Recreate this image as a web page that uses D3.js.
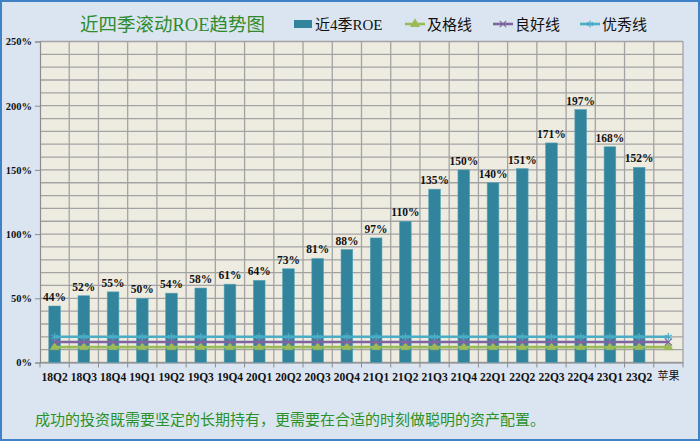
<!DOCTYPE html>
<html>
<head>
<meta charset="utf-8">
<script src="https://cdn.jsdelivr.net/npm/d3@7.9.0/dist/d3.min.js"></script>
<style>
  body { margin: 0; background: #fff; }
  svg { display: block; }
  .num { font-family: "Liberation Serif", "Times New Roman", serif; font-weight: bold; }
</style>
</head>
<body>
<svg id="chart" width="700" height="441"></svg>
<script>
const quarters = ['18Q2','18Q3','18Q4','19Q1','19Q2','19Q3','19Q4','20Q1','20Q2','20Q3','20Q4',
  '21Q1','21Q2','21Q3','21Q4','22Q1','22Q2','22Q3','22Q4','23Q1','23Q2','苹果'];
const roe = [44,52,55,50,54,58,61,64,73,81,88,97,110,135,150,140,151,171,197,168,152];
const passLine = 12;
const goodLine = 16;
const excellentLine = 20;
const yTicks = [0,50,100,150,200,250];

const svg = d3.select('#chart');
const W = 700, H = 441;
const plot = { left: 40, right: 683, top: 41.5, bottom: 362.5 };
const mixFont = '"Liberation Serif", "Noto Sans CJK SC", serif';

// outer panel
svg.append('rect').attr('x', 1).attr('y', 1).attr('width', W - 2).attr('height', H - 2)
  .attr('fill', '#DBE5F1').attr('stroke', '#3F82C6').attr('stroke-width', 2);

const x = d3.scaleBand().domain(quarters).range([plot.left, plot.right]).padding(0);
const y = d3.scaleLinear().domain([0, 250]).range([plot.bottom, plot.top]);

// plot area
svg.append('rect')
  .attr('x', plot.left).attr('y', plot.top)
  .attr('width', plot.right - plot.left).attr('height', plot.bottom - plot.top)
  .attr('fill', '#EEECE1');

const grid = svg.append('g').attr('stroke', '#A3A3A3').attr('stroke-width', 1.3);
grid.selectAll('line.h').data(d3.range(0, 251, 10)).join('line')
  .attr('x1', plot.left).attr('x2', plot.right)
  .attr('y1', d => y(d)).attr('y2', d => y(d));
grid.selectAll('line.v').data(d3.range(1, quarters.length + 1)).join('line')
  .attr('x1', i => plot.left + x.step() * i)
  .attr('x2', i => plot.left + x.step() * i)
  .attr('y1', plot.top).attr('y2', plot.bottom);

// axes
const yAxis = svg.append('g').attr('transform', `translate(${plot.left},0)`)
  .call(d3.axisLeft(y).tickValues(yTicks).tickFormat(d => d + '%').tickSize(5).tickPadding(3));
yAxis.select('.domain').attr('stroke', '#8C8C8C').attr('stroke-width', 1.2);
yAxis.selectAll('.tick line').attr('stroke', '#8C8C8C');
yAxis.selectAll('text').attr('class', 'num').attr('font-size', 10.5).attr('fill', '#111');

const xAxis = svg.append('g').attr('transform', `translate(0,${plot.bottom})`)
  .call(d3.axisBottom(x).tickSize(0).tickPadding(10));
xAxis.select('.domain').attr('stroke', '#8C8C8C').attr('stroke-width', 1.2);
xAxis.selectAll('text')
  .attr('font-family', mixFont)
  .attr('font-weight', d => d === '苹果' ? 'normal' : 'bold')
  .attr('font-size', d => d === '苹果' ? 11 : 11.5)
  .attr('fill', '#111');
xAxis.selectAll('line.bt').data(d3.range(quarters.length + 1)).join('line')
  .attr('x1', i => plot.left + x.step() * i).attr('x2', i => plot.left + x.step() * i)
  .attr('y1', 0).attr('y2', 5).attr('stroke', '#8C8C8C');

// bars
const barW = x.bandwidth() * 0.4;
const bars = roe.map((v, i) => ({ q: quarters[i], v }));
svg.append('g').selectAll('rect').data(bars).join('rect')
  .attr('x', d => x(d.q) + (x.bandwidth() - barW) / 2)
  .attr('y', d => y(d.v))
  .attr('width', barW)
  .attr('height', d => y(0) - y(d.v))
  .attr('fill', '#31849B')
  .attr('stroke', '#5BA5BA').attr('stroke-width', 0.6);

svg.append('g').selectAll('text').data(bars).join('text')
  .attr('class', 'num')
  .attr('x', d => x(d.q) + x.bandwidth() / 2)
  .attr('y', d => y(d.v) - 5)
  .attr('text-anchor', 'middle')
  .attr('font-size', 11.5)
  .attr('fill', '#111')
  .text(d => d.v + '%');

// threshold lines
const lines = [
  { name: '及格线', value: passLine, color: '#9BBB59', symbol: d3.symbolTriangle, size: 36, fill: true },
  { name: '良好线', value: goodLine, color: '#8064A2', symbol: d3.symbolX, size: 36, fill: false },
  { name: '优秀线', value: excellentLine, color: '#4BACC6', symbol: d3.symbolAsterisk, size: 40, fill: false }
];
const cx = q => x(q) + x.bandwidth() / 2;
lines.forEach(l => {
  const pts = quarters.map(q => [cx(q), y(l.value)]);
  svg.append('path').attr('d', d3.line()(pts))
    .attr('fill', 'none').attr('stroke', l.color).attr('stroke-width', 2.6);
  const sym = d3.symbol().type(l.symbol).size(l.size);
  svg.append('g').selectAll('path').data(pts).join('path')
    .attr('transform', d => `translate(${d[0]},${d[1]})`)
    .attr('d', sym)
    .attr('fill', l.fill ? l.color : 'none')
    .attr('stroke', l.color).attr('stroke-width', l.fill ? 0.5 : 1.2);
});

// title
svg.append('text').attr('x', 80).attr('y', 31)
  .attr('font-family', mixFont).attr('font-size', 18.5)
  .attr('fill', '#2E8B2E').text('近四季滚动ROE趋势图');

// legend
const legend = svg.append('g').attr('font-family', mixFont)
  .attr('font-size', 15).attr('fill', '#111');
legend.append('rect').attr('x', 294).attr('y', 20).attr('width', 18).attr('height', 8).attr('fill', '#31849B');
legend.append('text').attr('x', 315).attr('y', 30).text('近4季ROE');
const legX = [405, 493, 580];
lines.forEach((l, i) => {
  const g = legend.append('g').attr('transform', `translate(${legX[i]},24)`);
  g.append('line').attr('x1', 0).attr('x2', 20).attr('stroke', l.color).attr('stroke-width', 2.6);
  g.append('path').attr('transform', 'translate(10,0)')
    .attr('d', d3.symbol().type(l.symbol).size(l.size * 0.8)())
    .attr('fill', l.fill ? l.color : 'none').attr('stroke', l.color).attr('stroke-width', 1.1);
  g.append('text').attr('x', 22).attr('y', 6).text(l.name);
});

// footnote
svg.append('text').attr('x', 35).attr('y', 425)
  .attr('font-family', '"Noto Sans CJK SC", sans-serif').attr('font-size', 15)
  .attr('fill', '#2A922A')
  .text('成功的投资既需要坚定的长期持有，更需要在合适的时刻做聪明的资产配置。');
</script>
</body>
</html>
